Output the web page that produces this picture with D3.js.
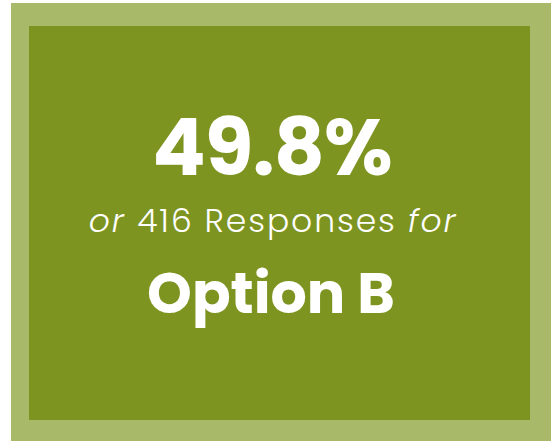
<!DOCTYPE html>
<html>
<head>
<meta charset="utf-8">
<script src="https://cdn.jsdelivr.net/npm/d3@7"></script>
<style>
  body { margin: 0; background: #fff; }
</style>
</head>
<body>
<script>
// stat card values
var percents = [49.8];
var counts = [416];
var options = ["Option B"];

var w = 551, h = 441;
var font = "Poppins, 'Open Sans', sans-serif";

var svg = d3.select("body").append("svg")
    .attr("width", w)
    .attr("height", h);

// outer frame
svg.append("rect")
    .attr("x", 11).attr("y", 3)
    .attr("width", w - 11).attr("height", h - 3)
    .attr("fill", "#a8ba6a");

// inner panel
svg.append("rect")
    .attr("x", 29).attr("y", 26)
    .attr("width", 501).attr("height", 394)
    .attr("fill", "#7e9420");

var cx = 272;
var fmt = d3.format(".1f");

var g = svg.append("g").attr("fill", "#fff").attr("font-family", font).attr("text-anchor", "middle");

g.selectAll("text.pct")
    .data(percents)
  .enter().append("text")
    .attr("class", "pct")
    .attr("x", cx).attr("y", 175)
    .attr("font-size", 79)
    .attr("font-weight", 700)
    .attr("letter-spacing", -1)
    .text(d => fmt(d) + "%");

var sub = g.selectAll("text.sub")
    .data(counts)
  .enter().append("text")
    .attr("class", "sub")
    .attr("x", cx + 1).attr("y", 232)
    .attr("font-size", 33)
    .attr("font-weight", 300)
    .attr("letter-spacing", 1.9);
sub.append("tspan").attr("font-style", "italic").text("or ");
sub.append("tspan").text(d => d + " Responses ");
sub.append("tspan").attr("font-style", "italic").text("for");

g.selectAll("text.opt")
    .data(options)
  .enter().append("text")
    .attr("class", "opt")
    .attr("x", cx - 1).attr("y", 313)
    .attr("font-size", 57)
    .attr("font-weight", 700)
    .text(d => d);
</script>
</body>
</html>
